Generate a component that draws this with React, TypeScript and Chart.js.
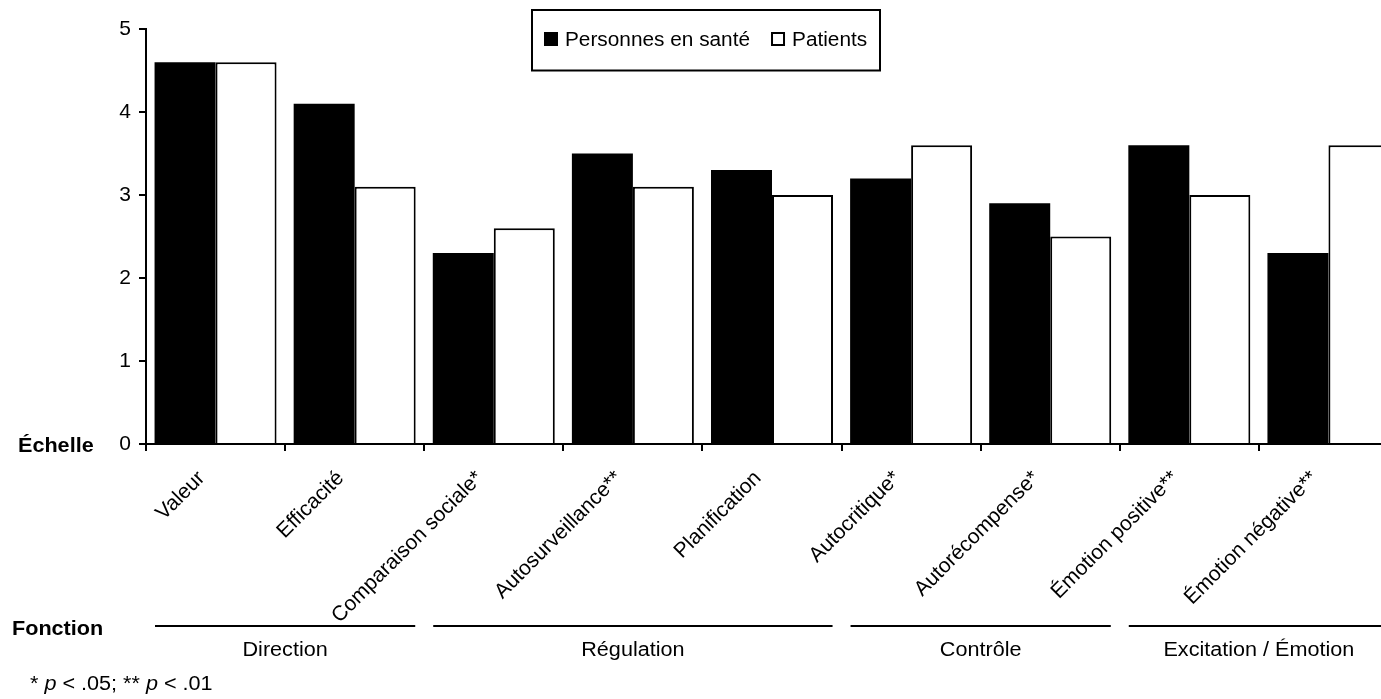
import React, { useEffect, useRef } from 'react';
import { Chart, registerables } from 'chart.js';

Chart.register(...registerables);

// ---------- data ----------
const categories = [
  'Valeur',
  'Efficacité',
  'Comparaison sociale*',
  'Autosurveillance**',
  'Planification',
  'Autocritique*',
  'Autorécompense*',
  'Émotion positive**',
  'Émotion négative**',
];
const seriesLabels = ['Personnes en santé', 'Patients'];
const healthyValues = [4.6, 4.1, 2.3, 3.5, 3.3, 3.2, 2.9, 3.6, 2.3];
const patientValues = [4.6, 3.1, 2.6, 3.1, 3.0, 3.6, 2.5, 3.0, 3.6];
const yMin = 0;
const yMax = 5;
const yStep = 1;
const groupNames = ['Direction', 'Régulation', 'Contrôle', 'Excitation / Émotion'];
const groupFirst = [0, 2, 5, 7];
const groupLast = [1, 4, 6, 8];
const yAxisTitle = 'Échelle';
const groupAxisTitle = 'Fonction';
const footnoteParts: [string, boolean][] = [
  ['* ', false],
  ['p', true],
  [' < .05; ** ', false],
  ['p', true],
  [' < .01', false],
];

const FONT = '"Liberation Sans", Arial, Helvetica, sans-serif';

function drawText(
  ctx: CanvasRenderingContext2D,
  text: string,
  x: number,
  y: number,
  size: number,
  opts: { bold?: boolean; italic?: boolean; align?: CanvasTextAlign; sx?: number } = {}
) {
  const { bold = false, italic = false, align = 'left', sx = 1 } = opts;
  ctx.save();
  ctx.font = `${italic ? 'italic ' : ''}${bold ? 'bold ' : ''}${size}px ${FONT}`;
  ctx.fillStyle = '#000';
  ctx.textBaseline = 'alphabetic';
  ctx.textAlign = align;
  const w = ctx.measureText(text).width * sx;
  ctx.translate(x, y);
  ctx.scale(sx, 1);
  ctx.fillText(text, 0, 0);
  ctx.restore();
  return w;
}

const extrasPlugin = {
  id: 'extras',
  afterDraw(chart: any) {
    const ctx: CanvasRenderingContext2D = chart.ctx;
    const xs = chart.scales.x;
    const n = chart.data.labels.length;
    const cat = (xs.right - xs.left) / n;
    const SX = 1.08;
    const SIZE = 20;

    // legend
    ctx.save();
    ctx.strokeStyle = '#000';
    ctx.lineWidth = 2;
    ctx.fillStyle = '#fff';
    ctx.fillRect(532, 10, 348, 60.5);
    ctx.strokeRect(532, 10, 348, 60.5);
    ctx.restore();
    let lx = 544;
    const ds = chart.data.datasets;
    ds.forEach((d: any) => {
      ctx.save();
      ctx.lineWidth = 2;
      ctx.strokeStyle = '#000';
      ctx.fillStyle = d.backgroundColor;
      ctx.fillRect(lx + 1, 33, 12, 12);
      ctx.strokeRect(lx + 1, 33, 12, 12);
      ctx.restore();
      const w = drawText(ctx, d.label, lx + 21, 46, 20, { sx: 1.04 });
      lx = lx + 21 + w + 21;
    });

    // y axis title
    drawText(ctx, yAxisTitle, 18, 451.5, SIZE, { bold: true, sx: SX });

    // group lines and labels
    drawText(ctx, groupAxisTitle, 12, 634.5, SIZE, { bold: true, sx: SX });
    groupNames.forEach((g, i) => {
      const x0 = xs.getPixelForValue(groupFirst[i]) - cat / 2 + 9;
      const x1 = xs.getPixelForValue(groupLast[i]) + cat / 2 - 9;
      ctx.save();
      ctx.strokeStyle = '#000';
      ctx.lineWidth = 2;
      ctx.beginPath();
      ctx.moveTo(x0, 626);
      ctx.lineTo(x1, 626);
      ctx.stroke();
      ctx.restore();
      drawText(ctx, g, (x0 + x1) / 2, 655.5, SIZE, { align: 'center', sx: SX });
    });

    // footnote
    let fx = 30;
    footnoteParts.forEach(([t, it]) => {
      fx += drawText(ctx, t, fx, 690, SIZE, { italic: it, sx: SX });
    });
  },
};

export default function App() {
  const ref = useRef<HTMLCanvasElement>(null);

  useEffect(() => {
    const canvas = ref.current;
    if (!canvas) return;
    const chart = new Chart(canvas, {
      type: 'bar',
      data: {
        labels: categories,
        datasets: [
          {
            label: seriesLabels[0],
            data: healthyValues,
            backgroundColor: '#000',
            borderColor: '#000',
            borderWidth: 0,
            categoryPercentage: 0.877,
            barPercentage: 1,
          },
          {
            label: seriesLabels[1],
            data: patientValues,
            backgroundColor: '#fff',
            borderColor: '#000',
            borderWidth: 2,
            borderSkipped: 'start',
            categoryPercentage: 0.877,
            barPercentage: 1,
          },
        ],
      },
      options: {
        responsive: false,
        animation: false,
        devicePixelRatio: 1,
        layout: { padding: { top: 29, left: 0, right: 0, bottom: 0 } },
        plugins: {
          legend: { display: false },
          tooltip: { enabled: false },
          title: { display: false },
        },
        scales: {
          x: {
            offset: true,
            grid: {
              display: true,
              offset: true,
              drawOnChartArea: false,
              drawTicks: true,
              tickLength: 7,
              color: '#000',
              lineWidth: 2,
            },
            border: { display: true, color: '#000', width: 2 },
            ticks: {
              color: '#000',
              font: { family: FONT, size: 21 },
              minRotation: 45,
              maxRotation: 45,
              autoSkip: false,
              padding: 15,
              labelOffset: -14,
            },
            afterFit: (s: any) => {
              s.height = 255;
            },
          },
          y: {
            min: yMin,
            max: yMax,
            grid: {
              display: true,
              drawOnChartArea: false,
              drawTicks: true,
              tickLength: 7,
              color: '#000',
              lineWidth: 2,
            },
            border: { display: true, color: '#000', width: 2 },
            ticks: {
              stepSize: yStep,
              color: '#000',
              font: { family: FONT, size: 21 },
              padding: 8,
            },
            afterFit: (s: any) => {
              s.width = 146;
            },
          },
        },
      },
      plugins: [extrasPlugin],
    });
    return () => chart.destroy();
  }, []);

  return (
    <div
      style={{
        position: 'fixed',
        left: 0,
        top: 0,
        width: 1381,
        height: 699,
        overflow: 'hidden',
        background: '#fff',
      }}
    >
      <canvas ref={ref} width={1398} height={699} style={{ display: 'block' }} />
    </div>
  );
}
